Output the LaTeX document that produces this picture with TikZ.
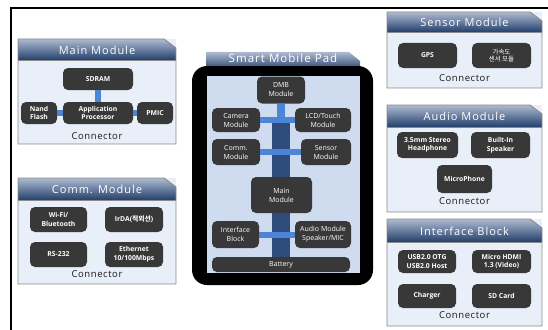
\documentclass[tikz,border=0pt]{standalone}
\usepackage{fontspec}
\setmainfont{Open Sans}
\newfontfamily\kr{Noto Sans CJK KR}
\newfontfamily\hdfont[LetterSpace=9]{Open Sans}
\newfontfamily\cnfont[LetterSpace=6]{Open Sans}
\definecolor{hdtop}{HTML}{AEBBD0}
\definecolor{hdbot}{HTML}{233F6C}
\definecolor{bodyfill}{HTML}{E9EFF8}
\definecolor{panelgray}{HTML}{8A8A8A}
\definecolor{boxgray}{HTML}{383838}
\definecolor{screenblue}{HTML}{CFDBEE}
\definecolor{lbus}{HTML}{4C85D6}
\definecolor{dbus}{HTML}{2F4D7C}
\tikzset{
  panelline/.style={draw=panelgray, line width=0.9pt},
  hdtext/.style={text=white, font=\hdfont\fontsize{11}{12}\selectfont, inner sep=0pt},
  conntext/.style={text=black!90, font=\cnfont\fontsize{9.5}{10}\selectfont, inner sep=0pt},
  box/.style={fill=boxgray, rounded corners=5pt, text=white, align=center, inner sep=0pt,
    font=\fontsize{6.8}{8.6}\selectfont\bfseries},
  pbox/.style={box, font=\fontsize{7}{9}\selectfont},
  sz/.style 2 args={minimum width=#1pt, minimum height=#2pt},
  lbusline/.style={draw=lbus, line width=6pt},
  dbusline/.style={draw=dbus, line width=18pt},
}
\newcommand\modpanel[7]{%
  \fill[bodyfill] (#1,#2) rectangle (#3,#4);
  \shade[top color=hdtop, bottom color=hdbot] (#1,#2) -- ({#3-12},#2) -- (#3,{#2+9}) -- (#3,#5) -- (#1,#5) -- cycle;
  \draw[panelline] (#1,#2) -- ({#3-12},#2) -- (#3,{#2+9}) -- (#3,#4) -- (#1,#4) -- cycle;
  \draw[panelline] (#1,#5) -- (#3,#5);
  \node[hdtext] (#7) at ({(#1+#3)/2},{(#2+#5)/2+0.5}) {#6};
}
\begin{document}
\begin{tikzpicture}[x=1pt, y=-1pt]
\useasboundingbox (0,0) rectangle (548,329);
\fill[white] (0,0) rectangle (548,329);
% outer frame
\draw[line width=1.8pt] (11,330) -- (11,8) -- (549,8);

% ===== Main Module =====
\modpanel{18}{39}{176}{144}{60}{Main Module}{mainH}
\node[box, sz={70}{22}] (sdram) at (98,79) {SDRAM};
\node[box, sz={70}{22}] (ap) at (98,113) {Application\\Processor};
\node[box, sz={36}{22}] (nand) at (39,113) {Nand\\Flash};
\node[box, sz={36}{22}] (pmic) at (155,113) {PMIC};
\draw[lbusline] (sdram) -- (ap);
\draw[lbusline] (nand) -- (ap);
\draw[lbusline] (ap) -- (pmic);
\node[conntext] (mainC) at (97,136) {Connector};

% ===== Comm. Module =====
\modpanel{18}{178}{176}{284}{200}{Comm. Module}{commH}
\node[box, sz={57}{25}] (wifi) at (58.5,219.5) {Wi-Fi/\\Bluetooth};
\node[box, sz={58}{25}] (irda) at (134,219.5) {IrDA({\kr 적외선})};
\node[box, sz={57}{25}] (rs) at (58.5,254.5) {RS-232};
\node[box, sz={58}{25}] (eth) at (134,254.5) {Ethernet\\10/100Mbps};
\node[conntext] (commC) at (97,274) {Connector};

% ===== Sensor Module =====
\modpanel{387}{12}{542}{88}{32}{Sensor Module}{sensH}
\node[box, sz={59}{25}] (gps) at (427.5,55.5) {GPS};
\node[box, sz={59}{25}, font=\kr\fontsize{6.5}{7.8}\selectfont] (acc) at (501.5,55.5) {가속도\\센서 모듈};
\node[conntext] (sensC) at (464.5,78) {Connector};

% ===== Audio Module =====
\modpanel{387}{105}{542}{212}{127}{Audio Module}{audH}
\node[box, sz={61}{26}] (hp) at (427.5,145) {3.5mm Stereo\\Headphone};
\node[box, sz={59}{26}] (spk) at (500.5,145) {Built-In\\Speaker};
\node[box, sz={55}{28}] (mic) at (464.5,179) {MicroPhone};
\node[conntext] (audC) at (464.5,201) {Connector};

% ===== Interface Block =====
\modpanel{387}{219}{542}{326}{242}{Interface Block}{ifH}
\node[box, sz={58}{23}] (usb) at (427,261.5) {USB2.0 OTG\\USB2.0 Host};
\node[box, sz={59}{23}] (hdmi) at (501.5,261.5) {Micro HDMI\\1.3 (Video)};
\node[box, sz={58}{24}] (chg) at (427,296) {Charger};
\node[box, sz={59}{24}] (sd) at (501.5,296) {SD Card};
\node[conntext] (ifC) at (464.5,315) {Connector};

% ===== Smart Mobile Pad =====
\shade[top color=hdtop, bottom color=hdbot] (206,52) -- (349,52) -- (360,61) -- (360,70) -- (206,70) -- cycle;
\node[hdtext, font=\hdfont\fontsize{11.5}{13}\selectfont] (padH) at (283,58.5) {Smart Mobile Pad};
\fill[black, rounded corners=15pt] (192,66) rectangle (373,285);
\fill[screenblue] (207,76) rectangle (360,273);
\coordinate (busTop) at (281,119);
\node[pbox, sz={48}{27}] (dmb) at (281,90) {DMB\\Module};
\node[pbox, sz={48}{24}] (cam) at (236,120) {Camera\\Module};
\node[pbox, sz={56}{24}] (lcd) at (323,120) {LCD/Touch\\Module};
\node[pbox, sz={48}{26}] (pcomm) at (236,152) {Comm.\\Module};
\node[pbox, sz={50}{26}] (psens) at (326,152) {Sensor\\Module};
\node[pbox, sz={138}{15}] (bat) at (281,264.5) {Battery};
\draw[dbusline] (281,123) -- (bat.north);
\node[pbox, sz={61}{36}] (pmain) at (281.5,195) {Main\\Module};
\node[pbox, sz={47}{27}] (pif) at (235.5,234.5) {Interface\\Block};
\node[pbox, sz={56}{27}] (paud) at (323,234.5) {Audio Module\\Speaker/MIC};
\draw[draw=lbus, line width=8pt] (dmb) -- (busTop);
\draw[lbusline] (cam) -- (lcd);
\draw[lbusline] (pcomm) -- (psens);
\draw[lbusline] (pif) -- (paud);
\end{tikzpicture}
\end{document}
